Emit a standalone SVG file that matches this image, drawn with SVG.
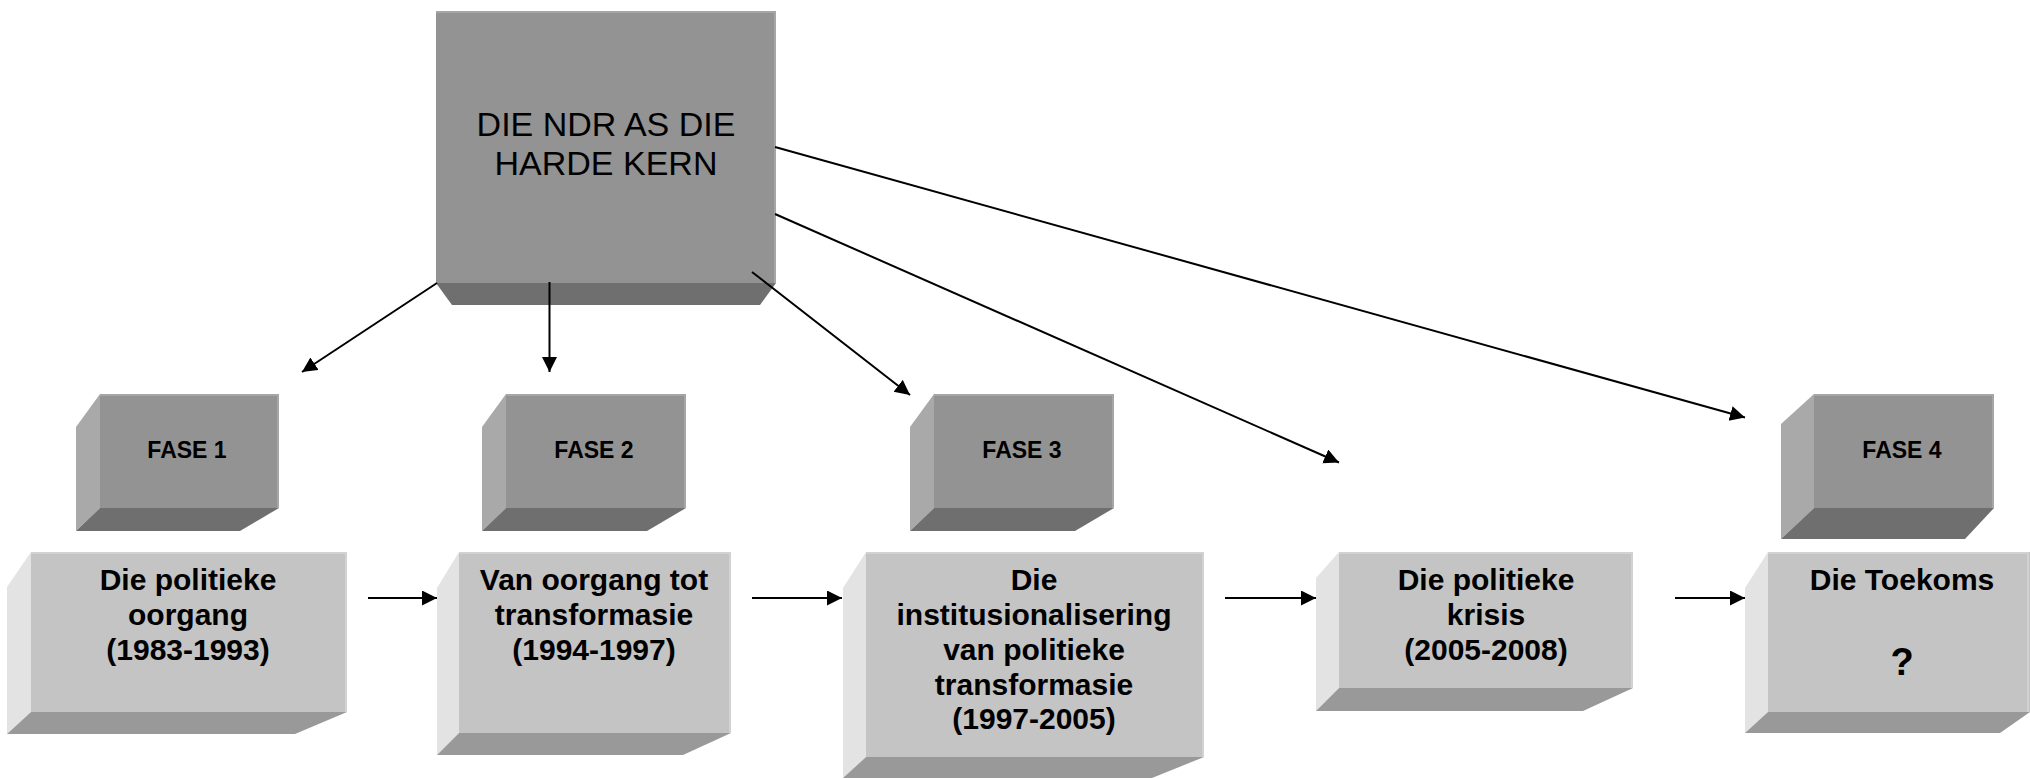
<svg xmlns="http://www.w3.org/2000/svg" width="2030" height="778" viewBox="0 0 2030 778">
<style>
.dk-front{fill:#939393}
.dk-side{fill:#a9a9a9}
.dk-bottom{fill:#6f6f6f}
.dk-edge{stroke:#a6a6a6;stroke-width:2;fill:none}
.lt-front{fill:#c4c4c4}
.lt-side{fill:#e3e3e3}
.lt-bottom{fill:#999999}
.lt-edge{stroke:#d2d2d2;stroke-width:2;fill:none}
.main{font-family:"Liberation Sans",Arial,sans-serif;font-size:34px;fill:#000;text-anchor:middle}
.fase{font-family:"Liberation Sans",Arial,sans-serif;font-size:23px;font-weight:bold;fill:#000;text-anchor:middle}
.big{font-family:"Liberation Sans",Arial,sans-serif;font-size:30px;font-weight:bold;fill:#000;text-anchor:middle}
.q{font-size:38px}
.conn{stroke:#000;stroke-width:2;fill:none;marker-end:url(#arr)}
</style>
<defs>
<marker id="arr" markerUnits="userSpaceOnUse" markerWidth="16" markerHeight="16" refX="15" refY="7.5" orient="auto">
<path d="M0,0 L15,7.5 L0,15 z" fill="#000"/>
</marker>
</defs>
<rect width="2030" height="778" fill="#fff"/>

<g id="core">
<polygon class="dk-bottom" points="436,283 776,283 760,305 452,305"/>
<rect class="dk-front" x="436" y="11" width="340" height="272"/>
<path class="dk-edge" d="M436,12 H775 V283"/>
<text class="main" x="606" y="136">DIE NDR AS DIE</text>
<text class="main" x="606" y="175">HARDE KERN</text>
</g>

<g id="fase1">
<polygon class="dk-side" points="100,394 76,427 76,531 100,508"/>
<polygon class="dk-bottom" points="100,508 279,508 240,531 76,531"/>
<rect class="dk-front" x="100" y="394" width="179" height="114"/>
<path class="dk-edge" d="M100,395 H278 V508"/>
<text class="fase" x="187" y="458">FASE 1</text>
</g>

<g id="fase2">
<polygon class="dk-side" points="506,394 482,427 482,531 506,508"/>
<polygon class="dk-bottom" points="506,508 686,508 647,531 482,531"/>
<rect class="dk-front" x="506" y="394" width="180" height="114"/>
<path class="dk-edge" d="M506,395 H685 V508"/>
<text class="fase" x="594" y="458">FASE 2</text>
</g>

<g id="fase3">
<polygon class="dk-side" points="934,394 910,427 910,531 934,508"/>
<polygon class="dk-bottom" points="934,508 1114,508 1075,531 910,531"/>
<rect class="dk-front" x="934" y="394" width="180" height="114"/>
<path class="dk-edge" d="M934,395 H1113 V508"/>
<text class="fase" x="1022" y="458">FASE 3</text>
</g>

<g id="fase4">
<polygon class="dk-side" points="1814,394 1781,424 1781,539 1814,508"/>
<polygon class="dk-bottom" points="1814,508 1994,508 1965,539 1781,539"/>
<rect class="dk-front" x="1814" y="394" width="180" height="114"/>
<path class="dk-edge" d="M1814,395 H1993 V508"/>
<text class="fase" x="1902" y="458">FASE 4</text>
</g>

<g id="phase1">
<polygon class="lt-side" points="31,552 7,587 7,734 31,712"/>
<polygon class="lt-bottom" points="31,712 347,712 295,734 7,734"/>
<rect class="lt-front" x="31" y="552" width="316" height="160"/>
<path class="lt-edge" d="M31,553 H346 V712"/>
<text class="big" x="188" y="590">Die politieke</text>
<text class="big" x="188" y="625">oorgang</text>
<text class="big" x="188" y="660">(1983-1993)</text>
</g>

<g id="phase2">
<polygon class="lt-side" points="459,552 437,588 437,755 459,733"/>
<polygon class="lt-bottom" points="459,733 731,733 683,755 437,755"/>
<rect class="lt-front" x="459" y="552" width="272" height="181"/>
<path class="lt-edge" d="M459,553 H730 V733"/>
<text class="big" x="594" y="590">Van oorgang tot</text>
<text class="big" x="594" y="625">transformasie</text>
<text class="big" x="594" y="660">(1994-1997)</text>
</g>

<g id="phase3">
<polygon class="lt-side" points="866,552 843,588 843,778 866,757"/>
<polygon class="lt-bottom" points="866,757 1204,757 1152,778 843,778"/>
<rect class="lt-front" x="866" y="552" width="338" height="205"/>
<path class="lt-edge" d="M866,553 H1203 V757"/>
<text class="big" x="1034" y="590">Die</text>
<text class="big" x="1034" y="625">institusionalisering</text>
<text class="big" x="1034" y="660">van politieke</text>
<text class="big" x="1034" y="695">transformasie</text>
<text class="big" x="1034" y="729">(1997-2005)</text>
</g>

<g id="phase4">
<polygon class="lt-side" points="1339,552 1316,578 1316,711 1339,688"/>
<polygon class="lt-bottom" points="1339,688 1633,688 1583,711 1316,711"/>
<rect class="lt-front" x="1339" y="552" width="294" height="136"/>
<path class="lt-edge" d="M1339,553 H1632 V688"/>
<text class="big" x="1486" y="590">Die politieke</text>
<text class="big" x="1486" y="625">krisis</text>
<text class="big" x="1486" y="660">(2005-2008)</text>
</g>

<g id="future">
<polygon class="lt-side" points="1768,552 1745,588 1745,733 1768,712"/>
<polygon class="lt-bottom" points="1768,712 2030,712 2000,733 1745,733"/>
<rect class="lt-front" x="1768" y="552" width="262" height="160"/>
<path class="lt-edge" d="M1768,553 H2028 V712"/>
<text class="big" x="1902" y="590">Die Toekoms</text>
<text class="big q" x="1902" y="675">?</text>
</g>

<g id="connectors">
<line class="conn" x1="437" y1="283" x2="302" y2="372"/>
<line class="conn" x1="549.5" y1="282" x2="549.5" y2="372"/>
<line class="conn" x1="752" y1="272" x2="910" y2="395"/>
<line class="conn" x1="775" y1="214" x2="1339" y2="462.5"/>
<line class="conn" x1="775" y1="147" x2="1745" y2="417.5"/>
<line class="conn" x1="368" y1="598" x2="437" y2="598"/>
<line class="conn" x1="752" y1="598" x2="842" y2="598"/>
<line class="conn" x1="1225" y1="598" x2="1316" y2="598"/>
<line class="conn" x1="1675" y1="598" x2="1745" y2="598"/>
</g>
</svg>
